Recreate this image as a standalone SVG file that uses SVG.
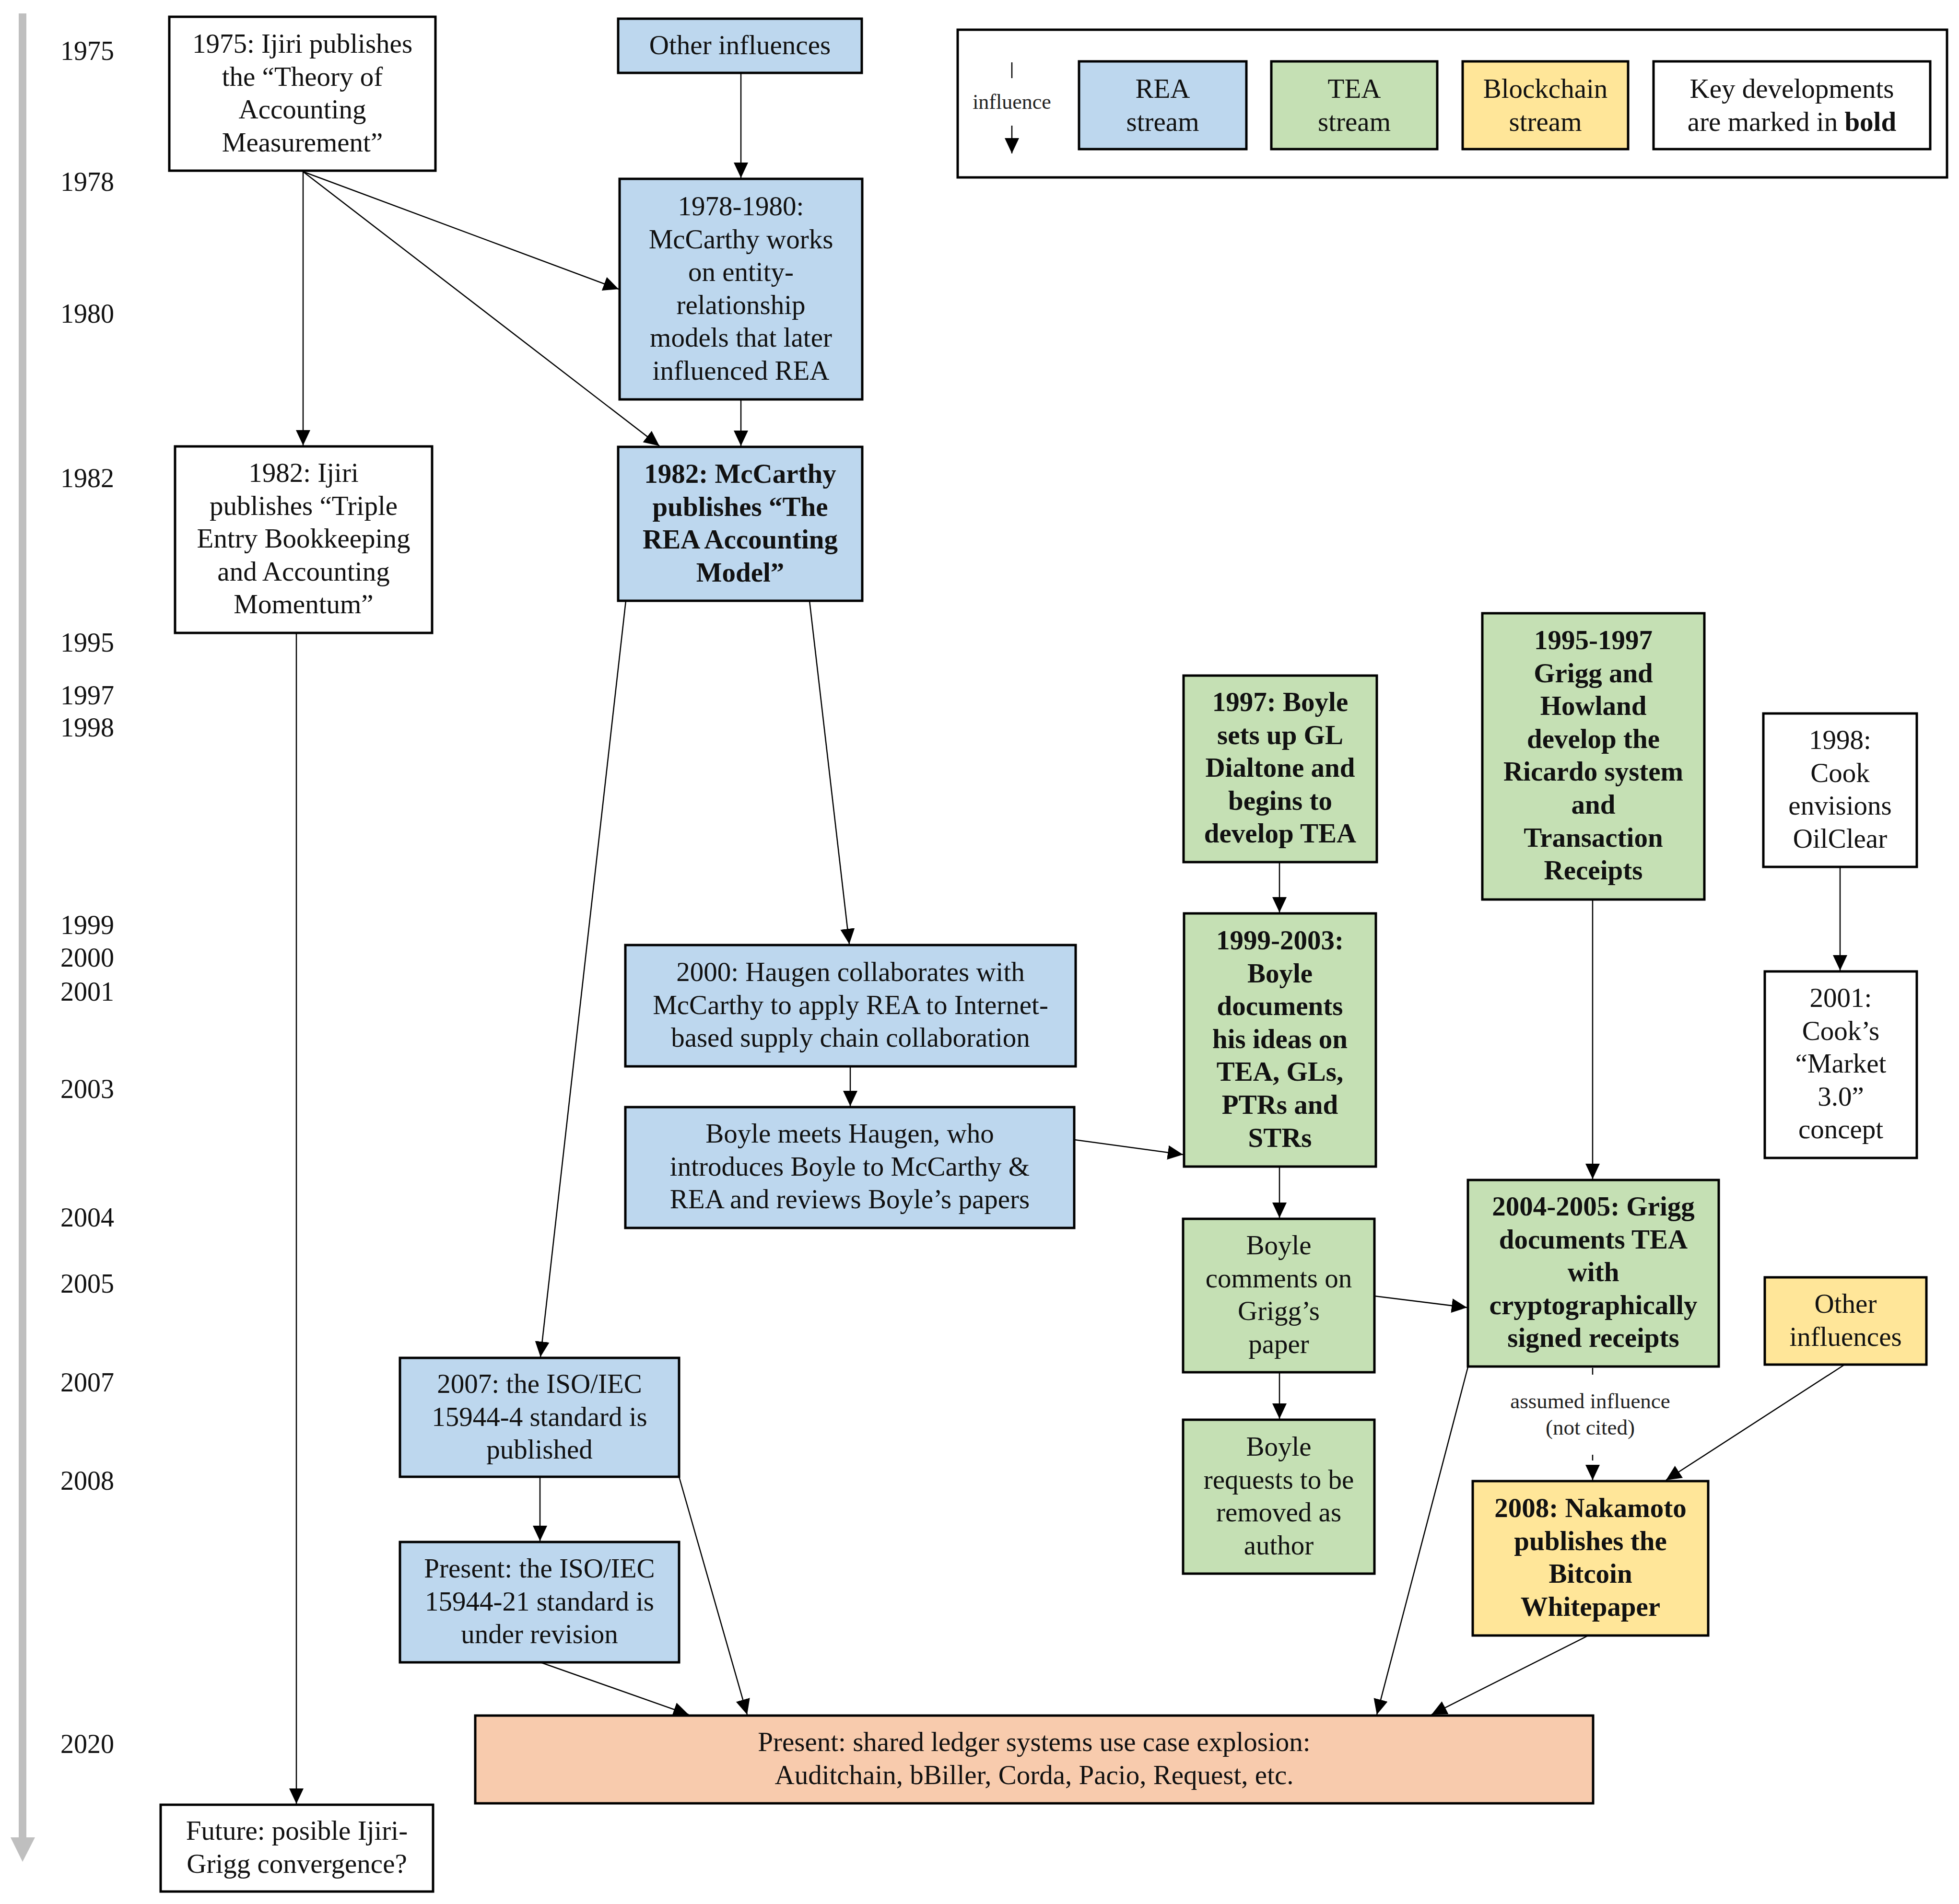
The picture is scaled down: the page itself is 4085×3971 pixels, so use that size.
<svg xmlns="http://www.w3.org/2000/svg" width="4085" height="3971" viewBox="0 0 4085 3971">
<style>
.n{stroke:#000;stroke-width:5}
.w{fill:#fff}.b{fill:#BDD7EE}.g{fill:#C5E0B4}.y{fill:#FFE699}.s{fill:#F8CBAD}
.t{font-family:"Liberation Serif","Times New Roman",serif;font-size:57px;text-anchor:middle;fill:#111}
.bd{font-weight:bold}
.yr{font-family:"Liberation Serif","Times New Roman",serif;font-size:56px;fill:#111}
.c{stroke:#000;stroke-width:2.5;fill:none;marker-end:url(#ah)}
.sm{font-family:"Liberation Serif","Times New Roman",serif;font-size:45px;text-anchor:middle;fill:#222}
</style>
<defs>
<marker id="ah" markerUnits="userSpaceOnUse" markerWidth="34" markerHeight="32" refX="32" refY="15" orient="auto">
<path d="M0,0 L32,15 L0,30 z" fill="#000"/>
</marker>
</defs>
<rect width="4085" height="3971" fill="#fff"/>

<g id="timeline">
<rect x="39" y="28" width="16" height="3806" fill="#BFBFBF"/>
<polygon points="22,3832 73,3832 47,3883" fill="#BFBFBF"/>
<text class="yr" x="126" y="125">1975</text>
<text class="yr" x="126" y="398">1978</text>
<text class="yr" x="126" y="673">1980</text>
<text class="yr" x="126" y="1016">1982</text>
<text class="yr" x="126" y="1359">1995</text>
<text class="yr" x="126" y="1469">1997</text>
<text class="yr" x="126" y="1536">1998</text>
<text class="yr" x="126" y="1948">1999</text>
<text class="yr" x="126" y="2016">2000</text>
<text class="yr" x="126" y="2087">2001</text>
<text class="yr" x="126" y="2290">2003</text>
<text class="yr" x="126" y="2558">2004</text>
<text class="yr" x="126" y="2696">2005</text>
<text class="yr" x="126" y="2902">2007</text>
<text class="yr" x="126" y="3107">2008</text>
<text class="yr" x="126" y="3656">2020</text>
</g>

<g id="legend">
<rect class="n w" x="1997" y="62" width="2063" height="308"/>
<line x1="2110" y1="130" x2="2110" y2="163" stroke="#000" stroke-width="2.5"/>
<text class="sm" x="2110" y="227" style="font-size:44px">influence</text>
<line x1="2110" y1="262" x2="2110" y2="320" class="c"/>
<rect class="n b" x="2250" y="128" width="349" height="183"/>
<text class="t" x="2424.5" y="204">REA<tspan x="2424.5" dy="68.6">stream</tspan></text>
<rect class="n g" x="2651" y="128" width="346" height="183"/>
<text class="t" x="2824" y="204">TEA<tspan x="2824" dy="68.6">stream</tspan></text>
<rect class="n y" x="3050" y="128" width="345" height="183"/>
<text class="t" x="3222.5" y="204">Blockchain<tspan x="3222.5" dy="68.6">stream</tspan></text>
<rect class="n w" x="3448" y="128" width="577" height="183"/>
<text class="t" x="3736.5" y="204">Key developments<tspan x="3736.5" dy="68.6">are marked in <tspan class="bd">bold</tspan></tspan></text>
</g>

<g id="connectors">
<line class="c" x1="632" y1="358" x2="632" y2="929"/>
<line class="c" x1="632" y1="358" x2="1290" y2="603"/>
<line class="c" x1="632" y1="358" x2="1375" y2="930"/>
<line class="c" x1="1545" y1="152" x2="1545" y2="371"/>
<line class="c" x1="1545" y1="833" x2="1545" y2="930"/>
<line class="c" x1="618" y1="1320" x2="618" y2="3762"/>
<line class="c" x1="1305" y1="1253" x2="1127" y2="2830"/>
<line class="c" x1="1688" y1="1253" x2="1771" y2="1969"/>
<line class="c" x1="1773" y1="2224" x2="1773" y2="2307"/>
<line class="c" x1="2240" y1="2377" x2="2467" y2="2408"/>
<line class="c" x1="2668" y1="1798" x2="2668" y2="1903"/>
<line class="c" x1="2668" y1="2433" x2="2668" y2="2540"/>
<line class="c" x1="2668" y1="2862" x2="2668" y2="2959"/>
<line class="c" x1="2866" y1="2703" x2="3059" y2="2727"/>
<line class="c" x1="3321" y1="1876" x2="3321" y2="2459"/>
<line class="c" x1="3837" y1="1808" x2="3837" y2="2024"/>
<line x1="3321" y1="2853" x2="3321" y2="2867" stroke="#000" stroke-width="2.5"/>
<line class="c" x1="3321" y1="3034" x2="3321" y2="3087" stroke-dasharray="12 30"/>
<text class="sm" x="3316" y="2937">assumed influence</text>
<text class="sm" x="3316" y="2992">(not cited)</text>
<line class="c" x1="3845" y1="2847" x2="3474" y2="3087"/>
<line class="c" x1="1126" y1="3080" x2="1126" y2="3214"/>
<line class="c" x1="1127" y1="3467" x2="1436" y2="3576"/>
<line class="c" x1="1416" y1="3080" x2="1558" y2="3576"/>
<line class="c" x1="3061" y1="2851" x2="2871" y2="3576"/>
<line class="c" x1="3312" y1="3411" x2="2985" y2="3576"/>
</g>

<g id="ijiri1975">
<rect class="n w" x="353" y="35" width="555" height="321"/>
<text class="t" x="630.5" y="110">1975: Ijiri publishes<tspan x="630.5" dy="68.6">the “Theory of</tspan><tspan x="630.5" dy="68.6">Accounting</tspan><tspan x="630.5" dy="68.6">Measurement”</tspan></text>
</g>
<g id="other-influences-rea">
<rect class="n b" x="1289" y="39" width="508" height="113"/>
<text class="t" x="1543" y="113">Other influences</text>
</g>
<g id="mccarthy1978">
<rect class="n b" x="1292" y="373" width="506" height="460"/>
<text class="t" x="1545" y="449">1978-1980:<tspan x="1545" dy="68.6">McCarthy works</tspan><tspan x="1545" dy="68.6">on entity-</tspan><tspan x="1545" dy="68.6">relationship</tspan><tspan x="1545" dy="68.6">models that later</tspan><tspan x="1545" dy="68.6">influenced REA</tspan></text>
</g>
<g id="ijiri1982">
<rect class="n w" x="365" y="931" width="536" height="389"/>
<text class="t" x="633" y="1005">1982: Ijiri<tspan x="633" dy="68.6">publishes “Triple</tspan><tspan x="633" dy="68.6">Entry Bookkeeping</tspan><tspan x="633" dy="68.6">and Accounting</tspan><tspan x="633" dy="68.6">Momentum”</tspan></text>
</g>
<g id="mccarthy1982">
<rect class="n b" x="1289" y="932" width="509" height="321"/>
<text class="t bd" x="1543.5" y="1007">1982: McCarthy<tspan x="1543.5" dy="68.6">publishes “The</tspan><tspan x="1543.5" dy="68.6">REA Accounting</tspan><tspan x="1543.5" dy="68.6">Model”</tspan></text>
</g>
<g id="haugen2000">
<rect class="n b" x="1304" y="1971" width="939" height="253"/>
<text class="t" x="1773.5" y="2046">2000: Haugen collaborates with<tspan x="1773.5" dy="68.6">McCarthy to apply REA to Internet-</tspan><tspan x="1773.5" dy="68.6">based supply chain collaboration</tspan></text>
</g>
<g id="boyle-meets">
<rect class="n b" x="1304" y="2309" width="936" height="252"/>
<text class="t" x="1772" y="2383">Boyle meets Haugen, who<tspan x="1772" dy="68.6">introduces Boyle to McCarthy &amp;</tspan><tspan x="1772" dy="68.6">REA and reviews Boyle’s papers</tspan></text>
</g>
<g id="boyle1997">
<rect class="n g" x="2468" y="1409" width="403" height="389"/>
<text class="t bd" x="2669.5" y="1483">1997: Boyle<tspan x="2669.5" dy="68.6">sets up GL</tspan><tspan x="2669.5" dy="68.6">Dialtone and</tspan><tspan x="2669.5" dy="68.6">begins to</tspan><tspan x="2669.5" dy="68.6">develop TEA</tspan></text>
</g>
<g id="boyle1999">
<rect class="n g" x="2469" y="1905" width="400" height="528"/>
<text class="t bd" x="2669" y="1980">1999-2003:<tspan x="2669" dy="68.6">Boyle</tspan><tspan x="2669" dy="68.6">documents</tspan><tspan x="2669" dy="68.6">his ideas on</tspan><tspan x="2669" dy="68.6">TEA, GLs,</tspan><tspan x="2669" dy="68.6">PTRs and</tspan><tspan x="2669" dy="68.6">STRs</tspan></text>
</g>
<g id="grigg1995">
<rect class="n g" x="3091" y="1279" width="463" height="597"/>
<text class="t bd" x="3322.5" y="1354">1995-1997<tspan x="3322.5" dy="68.6">Grigg and</tspan><tspan x="3322.5" dy="68.6">Howland</tspan><tspan x="3322.5" dy="68.6">develop the</tspan><tspan x="3322.5" dy="68.6">Ricardo system</tspan><tspan x="3322.5" dy="68.6">and</tspan><tspan x="3322.5" dy="68.6">Transaction</tspan><tspan x="3322.5" dy="68.6">Receipts</tspan></text>
</g>
<g id="cook1998">
<rect class="n w" x="3677" y="1488" width="320" height="320"/>
<text class="t" x="3837" y="1562">1998:<tspan x="3837" dy="68.6">Cook</tspan><tspan x="3837" dy="68.6">envisions</tspan><tspan x="3837" dy="68.6">OilClear</tspan></text>
</g>
<g id="cook2001">
<rect class="n w" x="3680" y="2026" width="317" height="389"/>
<text class="t" x="3838.5" y="2100">2001:<tspan x="3838.5" dy="68.6">Cook’s</tspan><tspan x="3838.5" dy="68.6">“Market</tspan><tspan x="3838.5" dy="68.6">3.0”</tspan><tspan x="3838.5" dy="68.6">concept</tspan></text>
</g>
<g id="boyle-comments">
<rect class="n g" x="2467" y="2542" width="399" height="320"/>
<text class="t" x="2666.5" y="2616">Boyle<tspan x="2666.5" dy="68.6">comments on</tspan><tspan x="2666.5" dy="68.6">Grigg’s</tspan><tspan x="2666.5" dy="68.6">paper</tspan></text>
</g>
<g id="grigg2004">
<rect class="n g" x="3061" y="2461" width="523" height="389"/>
<text class="t bd" x="3322.5" y="2535">2004-2005: Grigg<tspan x="3322.5" dy="68.6">documents TEA</tspan><tspan x="3322.5" dy="68.6">with</tspan><tspan x="3322.5" dy="68.6">cryptographically</tspan><tspan x="3322.5" dy="68.6">signed receipts</tspan></text>
</g>
<g id="other-influences-blockchain">
<rect class="n y" x="3680" y="2664" width="337" height="182"/>
<text class="t" x="3848.5" y="2738">Other<tspan x="3848.5" dy="68.6">influences</tspan></text>
</g>
<g id="boyle-requests">
<rect class="n g" x="2467" y="2961" width="399" height="321"/>
<text class="t" x="2666.5" y="3036">Boyle<tspan x="2666.5" dy="68.6">requests to be</tspan><tspan x="2666.5" dy="68.6">removed as</tspan><tspan x="2666.5" dy="68.6">author</tspan></text>
</g>
<g id="nakamoto2008">
<rect class="n y" x="3071" y="3089" width="491" height="322"/>
<text class="t bd" x="3316.5" y="3164">2008: Nakamoto<tspan x="3316.5" dy="68.6">publishes the</tspan><tspan x="3316.5" dy="68.6">Bitcoin</tspan><tspan x="3316.5" dy="68.6">Whitepaper</tspan></text>
</g>
<g id="iso2007">
<rect class="n b" x="834" y="2832" width="582" height="248"/>
<text class="t" x="1125" y="2905">2007: the ISO/IEC<tspan x="1125" dy="68.6">15944-4 standard is</tspan><tspan x="1125" dy="68.6">published</tspan></text>
</g>
<g id="iso-present">
<rect class="n b" x="834" y="3216" width="582" height="251"/>
<text class="t" x="1125" y="3290">Present: the ISO/IEC<tspan x="1125" dy="68.6">15944-21 standard is</tspan><tspan x="1125" dy="68.6">under revision</tspan></text>
</g>
<g id="shared-ledger">
<rect class="n s" x="991" y="3578" width="2331" height="183"/>
<text class="t" x="2156.5" y="3652">Present: shared ledger systems use case explosion:<tspan x="2156.5" dy="68.6">Auditchain, bBiller, Corda, Pacio, Request, etc.</tspan></text>
</g>
<g id="future">
<rect class="n w" x="335" y="3764" width="568" height="181"/>
<text class="t" x="619" y="3837">Future: posible Ijiri-<tspan x="619" dy="68.6">Grigg convergence?</tspan></text>
</g>
</svg>
